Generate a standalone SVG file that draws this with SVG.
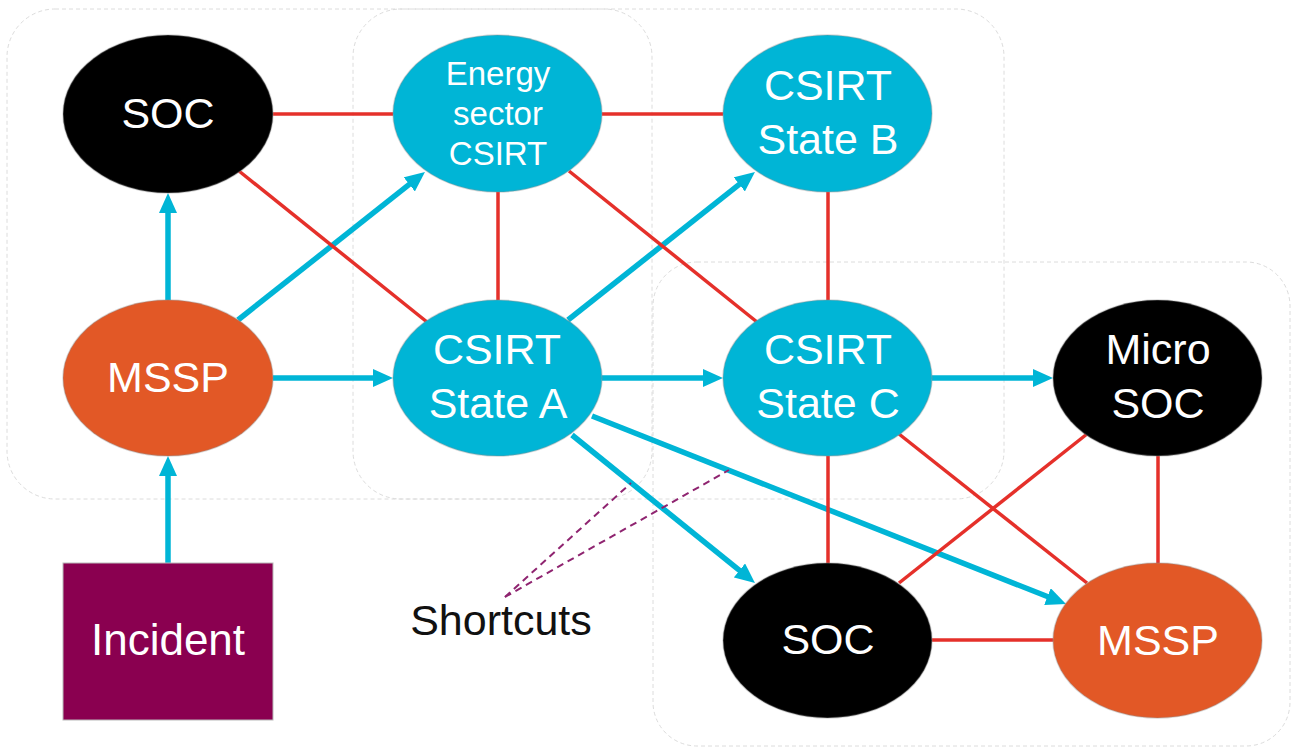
<svg xmlns="http://www.w3.org/2000/svg" width="1293" height="749" viewBox="0 0 1293 749">
  <defs>
    <style>
      .zone { fill: none; stroke: #dcdcdc; stroke-width: 1; stroke-dasharray: 4 3; }
      .node { stroke: #8c8c8c; stroke-opacity: 0.35; stroke-width: 1.5; }
      .csirt { fill: #00B5D6; }
      .soc { fill: #000000; }
      .mssp { fill: #E25826; }
      .incident { fill: #8A0050; stroke: #b9b9b9; stroke-width: 1; }
      .lbl { font-family: "Liberation Sans", Arial, sans-serif; fill: #ffffff; text-anchor: middle; font-size: 43px; }
      .lbl-s { font-size: 33px; }
      .link { stroke: #E5302A; stroke-width: 3.5; fill: none; }
      .flow { stroke: #00B5D6; stroke-width: 5.5; fill: none; marker-end: url(#arrow); }
      .note { stroke: #8F2470; stroke-width: 2; stroke-dasharray: 7 5; fill: none; }
      .note-text { font-family: "Liberation Sans", Arial, sans-serif; fill: #111111; font-size: 43px; text-anchor: middle; }
    </style>
    <marker id="arrow" markerUnits="userSpaceOnUse" markerWidth="20" markerHeight="18" viewBox="0 0 20 18" refX="6" refY="9" orient="auto">
      <path d="M0,0 L20,9 L0,18 z" fill="#00B5D6"/>
    </marker>
  </defs>

  <rect width="1293" height="749" fill="#ffffff"/>

  <!-- grouping zones -->
  <g id="zones">
    <rect class="zone" x="7" y="9" width="645" height="490" rx="48"/>
    <rect class="zone" x="353" y="9" width="651" height="490" rx="48"/>
    <rect class="zone" x="653" y="262" width="637" height="484" rx="44"/>
  </g>

  <!-- connectors -->
  <g id="connectors">
    <!-- information flow -->
    <line class="flow" x1="168" y1="300" x2="168" y2="207"/>
    <line class="flow" x1="168" y1="563" x2="168" y2="470"/>
    <line class="flow" x1="238" y1="320" x2="414" y2="180.7"/>
    <line class="flow" x1="273" y1="378" x2="379" y2="378"/>
    <line class="flow" x1="568" y1="320" x2="744" y2="180.7"/>
    <line class="flow" x1="602" y1="378" x2="709" y2="378"/>
    <line class="flow" x1="932" y1="378" x2="1039" y2="378"/>
    <line class="flow" x1="572" y1="435" x2="744.1" y2="574.2"/>
    <line class="flow" x1="592" y1="416" x2="1053" y2="598.8"/>
    <!-- peer links -->
    <line class="link" x1="273" y1="114" x2="393" y2="114"/>
    <line class="link" x1="602" y1="114" x2="723" y2="114"/>
    <line class="link" x1="239" y1="171" x2="427" y2="322"/>
    <line class="link" x1="569" y1="171" x2="757" y2="322"/>
    <line class="link" x1="498" y1="192" x2="498" y2="300"/>
    <line class="link" x1="828" y1="192" x2="828" y2="300"/>
    <line class="link" x1="828" y1="456" x2="828" y2="563"/>
    <line class="link" x1="1158" y1="456" x2="1158" y2="563"/>
    <line class="link" x1="899" y1="434" x2="1087" y2="583"/>
    <line class="link" x1="1087" y1="434" x2="899" y2="583"/>
    <line class="link" x1="932" y1="640" x2="1053" y2="640"/>
    <!-- shortcut callout -->
    <line class="note" x1="505" y1="597" x2="631" y2="483"/>
    <line class="note" x1="505" y1="597" x2="729" y2="470"/>
  </g>

  <g id="soc-top">
    <ellipse class="node soc" cx="168" cy="114" rx="105" ry="79"/>
    <text class="lbl" x="168" y="128">SOC</text>
  </g>

  <g id="energy-csirt">
    <ellipse class="node csirt" cx="497.5" cy="113.5" rx="104.5" ry="78.5"/>
    <text class="lbl lbl-s" x="498" y="85">Energy</text>
    <text class="lbl lbl-s" x="498" y="125">sector</text>
    <text class="lbl lbl-s" x="498" y="165">CSIRT</text>
  </g>

  <g id="csirt-b">
    <ellipse class="node csirt" cx="827.5" cy="113.5" rx="104.5" ry="78.5"/>
    <text class="lbl" x="828" y="100">CSIRT</text>
    <text class="lbl" x="828" y="154">State B</text>
  </g>

  <g id="mssp-left">
    <ellipse class="node mssp" cx="168" cy="378" rx="105" ry="78"/>
    <text class="lbl" x="168" y="392">MSSP</text>
  </g>

  <g id="csirt-a">
    <ellipse class="node csirt" cx="497.5" cy="378" rx="104.5" ry="78"/>
    <text class="lbl" x="497" y="364">CSIRT</text>
    <text class="lbl" x="498" y="418">State A</text>
  </g>

  <g id="csirt-c">
    <ellipse class="node csirt" cx="827.5" cy="378" rx="104.5" ry="78"/>
    <text class="lbl" x="828" y="364">CSIRT</text>
    <text class="lbl" x="828" y="418">State C</text>
  </g>

  <g id="micro-soc">
    <ellipse class="node soc" cx="1157.5" cy="378" rx="104.5" ry="78"/>
    <text class="lbl" x="1158" y="364">Micro</text>
    <text class="lbl" x="1158" y="418">SOC</text>
  </g>

  <g id="soc-bottom">
    <ellipse class="node soc" cx="827.5" cy="640.5" rx="104.5" ry="77.5"/>
    <text class="lbl" x="828" y="654">SOC</text>
  </g>

  <g id="mssp-bottom">
    <ellipse class="node mssp" cx="1157.5" cy="640.5" rx="104.5" ry="77.5"/>
    <text class="lbl" x="1158" y="655">MSSP</text>
  </g>

  <g id="incident">
    <rect class="incident" x="63" y="563" width="210" height="157"/>
    <text class="lbl" x="168" y="655" style="font-size:44px">Incident</text>
  </g>

  <g id="shortcuts-label">
    <text class="note-text" x="501" y="635">Shortcuts</text>
  </g>
</svg>
